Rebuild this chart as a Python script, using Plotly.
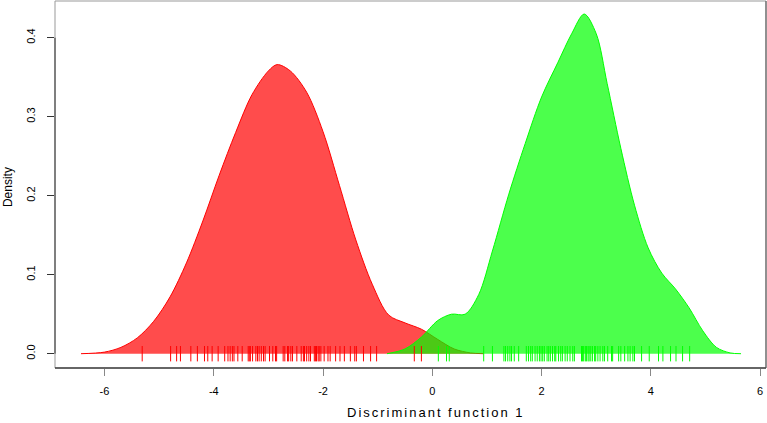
import plotly.graph_objects as go

# Density curve of group 1 (red)
red_x = [-6.43, -6.0, -5.7, -5.4, -5.1, -4.8, -4.5, -4.2, -3.9, -3.6, -3.3, -3.0, -2.84,
         -2.6, -2.3, -2.0, -1.7, -1.4, -1.1, -0.8, -0.5, -0.2, 0.1, 0.4, 0.7, 0.94]
red_y = [0.0, 0.002, 0.008, 0.020, 0.041, 0.072, 0.115, 0.168, 0.226, 0.280, 0.328, 0.358, 0.366,
         0.358, 0.331, 0.281, 0.213, 0.144, 0.088, 0.049, 0.039, 0.031, 0.018, 0.006, 0.001, 0.0]

# Density curve of group 2 (green)
green_x = [-0.83, -0.5, -0.2, 0.1, 0.35, 0.6, 0.85, 1.1, 1.4, 1.7, 2.0, 2.3, 2.55, 2.78,
           3.0, 3.2, 3.45, 3.7, 3.95, 4.2, 4.45, 4.7, 4.95, 5.2, 5.45, 5.65]
green_y = [0.0, 0.006, 0.021, 0.042, 0.050, 0.050, 0.075, 0.130, 0.202, 0.266, 0.325, 0.369, 0.405, 0.430,
           0.405, 0.342, 0.260, 0.188, 0.134, 0.102, 0.082, 0.058, 0.029, 0.008, 0.001, 0.0]

# Individual scores (rug)
red_rug = [-5.31, -4.79, -4.68, -4.61, -4.42, -4.30, -4.17, -4.11, -4.03, -3.92, -3.80, -3.74, -3.70,
           -3.66, -3.63, -3.56, -3.48, -3.37, -3.35, -3.33, -3.29, -3.23, -3.20, -3.17, -3.13, -3.09,
           -3.06, -2.98, -2.92, -2.87, -2.85, -2.73, -2.70, -2.65, -2.63, -2.59, -2.56, -2.48, -2.40,
           -2.36, -2.34, -2.30, -2.26, -2.23, -2.16, -2.14, -2.12, -2.09, -2.07, -2.04, -1.98, -1.91,
           -1.87, -1.77, -1.69, -1.61, -1.50, -1.42, -1.39, -1.26, -1.13, -1.02, -0.33, -0.20]
green_rug = [0.11, 0.26, 0.31, 0.94, 1.10, 1.31, 1.34, 1.38, 1.42, 1.45, 1.50, 1.58, 1.72, 1.76, 1.80,
             1.83, 1.88, 1.92, 1.96, 1.99, 2.02, 2.05, 2.10, 2.13, 2.16, 2.20, 2.24, 2.26, 2.31, 2.35,
             2.38, 2.43, 2.47, 2.52, 2.57, 2.60, 2.73, 2.75, 2.77, 2.80, 2.82, 2.85, 2.87, 2.90, 2.93,
             2.97, 2.99, 3.03, 3.07, 3.12, 3.15, 3.21, 3.28, 3.30, 3.41, 3.45, 3.52, 3.58, 3.62, 3.67,
             3.70, 3.83, 3.97, 4.14, 4.22, 4.36, 4.46, 4.58, 4.71]

x_ticks = [-6, -4, -2, 0, 2, 4, 6]
y_ticks = [0.0, 0.1, 0.2, 0.3, 0.4]
y_tick_text = ["0.0", "0.1", "0.2", "0.3", "0.4"]
x_title = "Discriminant function 1"
y_title = "Density"

fig = go.Figure()
fig.add_trace(go.Scatter(x=red_x, y=red_y, mode="lines", fill="tozeroy",
                         line=dict(color="rgb(255,0,0)", width=1, shape="spline", smoothing=0.9),
                         fillcolor="rgba(255,0,0,0.7)", hoverinfo="skip"))
fig.add_trace(go.Scatter(x=green_x, y=green_y, mode="lines", fill="tozeroy",
                         line=dict(color="rgb(0,255,0)", width=1, shape="spline", smoothing=0.9),
                         fillcolor="rgba(0,255,0,0.7)", hoverinfo="skip"))
fig.add_trace(go.Scatter(x=red_rug, y=[0] * len(red_rug), mode="markers",
                         marker=dict(symbol="line-ns", size=11, line=dict(color="rgb(255,0,0)", width=1))))
fig.add_trace(go.Scatter(x=green_rug, y=[0] * len(green_rug), mode="markers",
                         marker=dict(symbol="line-ns", size=11, line=dict(color="rgb(0,255,0)", width=1))))

tick_font = dict(family="Liberation Sans, Arial, sans-serif", size=11, color="black")

fig.update_layout(
    width=767, height=423,
    margin=dict(l=55, r=1, t=1, b=55, autoexpand=False),
    paper_bgcolor="white", plot_bgcolor="white",
    showlegend=False,
    xaxis=dict(range=[-6.906, 6.107], tickvals=x_ticks, ticktext=[str(v) for v in x_ticks],
               ticks="outside", ticklen=7, tickcolor="#888", tickwidth=1, automargin=False,
               ticklabelstandoff=6,
               showgrid=False, zeroline=False, showline=False, tickfont=tick_font),
    yaxis=dict(range=[-0.0181, 0.4465], tickvals=y_ticks, ticktext=y_tick_text,
               ticks="outside", ticklen=7, tickcolor="#333", tickwidth=1, tickangle=-90,
               automargin=False, ticklabelstandoff=8,
               showgrid=False, zeroline=False, showline=False, tickfont=tick_font),
    shapes=[
        dict(type="rect", xref="paper", yref="paper", x0=0, x1=1, y0=0, y1=1,
             line=dict(color="#999", width=1), layer="above"),
        dict(type="line", xref="paper", yref="paper", x0=0, x1=1, y0=0, y1=0,
             line=dict(color="black", width=1), layer="above"),
        dict(type="line", xref="paper", yref="paper", x0=1, x1=1, y0=0, y1=1,
             line=dict(color="#555", width=1), layer="above"),
        dict(type="line", xref="paper", yref="y", x0=0, x1=0, y0=0, y1=0.4,
             line=dict(color="#333", width=1), layer="above"),
    ],
    annotations=[
        dict(text='<span style="letter-spacing:2px">' + x_title + '</span>',
             xref="paper", yref="paper", x=0.536, y=0, yshift=-44,
             xanchor="center", yanchor="middle", showarrow=False,
             font=dict(family="Liberation Sans, Arial, sans-serif", size=13, color="black")),
        dict(text=y_title, xref="paper", yref="paper", x=0, xshift=-47, y=0.493,
             xanchor="center", yanchor="middle", textangle=-90, showarrow=False,
             font=dict(family="Liberation Sans, Arial, sans-serif", size=12, color="black")),
    ],
)

fig.write_html("out.html", config={"displayModeBar": False},
               post_script="document.body.style.margin='0';document.body.style.overflow='hidden';")
